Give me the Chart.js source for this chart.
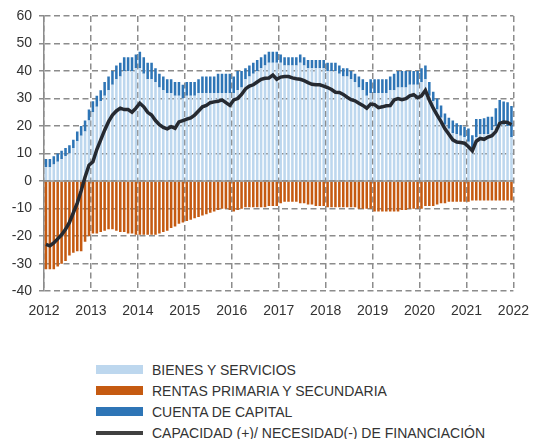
<!DOCTYPE html>
<html>
<head>
<meta charset="utf-8">
<script src="https://cdn.jsdelivr.net/npm/chart.js@4/dist/chart.umd.min.js"></script>
<style>
  body { margin: 0; background: #fff; font-family: 'Liberation Sans', Arial, sans-serif; }
  #wrap { position: relative; width: 541px; height: 439px; }
  #myChart { position: absolute; left: 0; top: 0; }
  #legend { position: absolute; left: 96px; top: 359px; }
  .item { height: 21.2px; display: flex; align-items: center; }
  .swatch { width: 47px; margin-right: 9px; }
  .txt { font-size: 14px; color: #333; white-space: nowrap; }
</style>
</head>
<body>
<div id="wrap">
  <canvas id="myChart" width="541" height="339"></canvas>
  <div id="legend"></div>
</div>
<script>
// Meses: enero 2012 - diciembre 2021
const years = [2012, 2013, 2014, 2015, 2016, 2017, 2018, 2019, 2020, 2021];
const yearTicks = [2012, 2013, 2014, 2015, 2016, 2017, 2018, 2019, 2020, 2021, 2022];

// Bienes y servicios
const bienes = [
    5, 5, 6, 7, 8, 9, 10, 12, 14.5, 16.5, 18, 22,
    25, 27, 29, 31, 33, 35, 37, 38, 40, 40, 40, 41,
    41, 39, 37, 37, 36, 34, 33, 32, 32, 31, 31, 30,
    31, 31, 31, 32, 32, 32, 32, 32, 32, 32, 32, 32,
    32, 33, 34, 37, 38, 39, 40, 41, 42, 43, 43, 43,
    43, 42, 42, 42, 42, 43, 42, 41, 41, 41, 41, 41,
    40, 40, 40, 39, 38, 38, 37, 36, 34, 33, 31, 32,
    32, 32, 32, 32, 33, 33, 34, 34, 34, 35, 35, 35,
    36, 37, 31, 29, 26, 23, 20.5, 19, 17.5, 17, 16.5, 16,
    14.3, 12, 16, 17, 17, 17, 18.5, 20, 21, 20.5, 20, 16
];
// Rentas primaria y secundaria
const rentas = [
    -32, -32, -32, -31, -30, -29, -27, -26, -25.5, -25.5, -22, -20,
    -19, -19, -18.5, -18, -17.5, -17.5, -18, -18.5, -18.5, -19, -19, -19.5,
    -19.5, -19.5, -19.5, -19.5, -19.5, -19, -18.5, -18, -17, -16.5, -15.5, -15,
    -14.5, -14, -13.5, -13, -12.5, -12, -11.5, -11, -10.5, -10, -10, -10.5,
    -11, -10.5, -10, -9.5, -9.5, -9.5, -9.5, -9.5, -9.5, -9, -9, -9,
    -8, -7.5, -7.5, -7.5, -7.5, -8, -8, -8.5, -8.5, -9, -9, -9,
    -9.5, -9.5, -9.5, -9.5, -9.5, -9.5, -9.5, -9.5, -10, -10, -10, -10,
    -11, -11, -11, -11, -11, -11, -11, -10.5, -10.5, -10, -10, -10,
    -10, -9, -9, -9, -8.5, -8, -8, -7.5, -7.5, -7.5, -7.5, -7.5,
    -7.5, -7, -7, -7, -7, -7, -7, -7, -7, -7, -7, -7
];
// Cuenta de capital
const capital = [
    3, 3, 3, 3, 3, 3, 3, 3, 3.5, 3.5, 4, 4,
    4, 4, 4, 5, 5, 5, 5, 5, 5, 5, 5, 5,
    6, 6, 6, 6, 5, 5, 5, 5, 5, 5, 5, 5,
    5, 5, 5, 5, 6, 6, 6, 6, 7, 7, 7, 7,
    6, 7, 6, 4, 4, 4, 4, 4, 4, 4, 4, 4,
    3, 3, 3, 3, 3, 3, 3, 3, 3, 3, 3, 3,
    3, 3, 3, 3, 3, 3, 3, 3, 4, 4, 5, 5,
    5, 5, 5, 5, 5, 6, 6, 6, 6, 5, 5, 5,
    5, 5, 5, 3.5, 4, 4.5, 4.1, 4, 4.5, 4, 3.9, 3.8,
    4.8, 4.7, 6.6, 5.6, 5.8, 6.4, 4.9, 6.5, 8.5, 8.4, 8.7, 11.3
];
// Capacidad (+) / necesidad (-) de financiación
const capacidad = [
    -23, -23.5, -22.5, -21, -19.5, -17.5, -15, -11.5, -8, -3.5, 1.5, 5.8,
    7, 11.5, 15, 18.5, 21.6, 24, 25.5, 26.5, 26, 26, 25, 26.5,
    28.3, 27, 25, 24, 22, 20.5, 19.5, 19, 19.8, 19.2, 21.5, 22,
    22.5, 23, 24, 25.5, 27, 27.5, 28.5, 28.8, 29, 29.5, 28.5, 27.5,
    29.5, 30, 31.5, 33.5, 34.5, 35, 36, 37, 37.4, 37.5, 38.5, 37,
    37.8, 38, 38, 37.5, 37.2, 37, 36.5, 35.8, 35.2, 35, 35, 34.5,
    34, 33.3, 32.3, 32.2, 31.5, 30.5, 29.6, 29.2, 28.3, 27.5, 26.5, 28,
    27.8, 26.7, 27, 27.4, 27.5, 29.5, 30, 29.6, 30, 31, 31.4, 30.3,
    31, 33, 29.5, 26.5, 24, 21.6, 19, 17, 15, 14.2, 14, 13.8,
    12.5, 11, 14.5, 15.5, 15.2, 16, 16.5, 18, 21, 21.5, 21.3, 20.5
];

// posicion de cada mes en el eje (centro del mes)
const meses = [];
years.forEach(y => { for (let m = 0; m < 12; m++) meses.push(y + (m + 0.5) / 12); });
const pts = arr => arr.map((v, i) => ({ x: meses[i], y: v }));

const gridColor = '#8c8c8c';
const tickFont = { size: 14, family: "'Liberation Sans', Arial, sans-serif" };

// linea del cero continua
const zeroLine = {
    id: 'zeroLine',
    afterDatasetDraw(chart, args) {
        if (args.index !== 0) return;
        const { ctx, chartArea } = chart;
        const y = chart.scales.y.getPixelForValue(0);
        ctx.save();
        ctx.strokeStyle = gridColor;
        ctx.lineWidth = 1.5;
        ctx.beginPath();
        ctx.moveTo(chartArea.left, y);
        ctx.lineTo(chartArea.right, y);
        ctx.stroke();
        ctx.restore();
    }
};

const datasets = [
    { label: 'BIENES Y SERVICIOS', data: pts(bienes), backgroundColor: '#bdd7ee', stack: 'b', order: 1 },
    { label: 'RENTAS PRIMARIA Y SECUNDARIA', data: pts(rentas), backgroundColor: '#c55a11', stack: 'b', order: 1 },
    { label: 'CUENTA DE CAPITAL', data: pts(capital), backgroundColor: '#2e75b6', stack: 'b', order: 1 },
    {
        type: 'line', label: 'CAPACIDAD (+)/ NECESIDAD(-) DE FINANCIACIÓN', data: pts(capacidad),
        borderColor: '#262a31', borderWidth: 3.5, pointRadius: 0, tension: 0, stack: 'l', order: 0,
        legendColor: '#404040'
    }
];

const ctx = document.getElementById('myChart').getContext('2d');
new Chart(ctx, {
    type: 'bar',
    data: { datasets: datasets },
    options: {
        responsive: false,
        animation: false,
        datasets: { bar: { categoryPercentage: 1, barPercentage: 0.65 } },
        layout: { padding: { top: 16, right: 17, bottom: 7, left: 0 } },
        plugins: { legend: { display: false }, tooltip: { enabled: false } },
        scales: {
            x: {
                type: 'linear',
                min: 2012, max: 2022,
                offset: false,
                afterBuildTicks: s => { s.ticks = yearTicks.map(v => ({ value: v })); },
                ticks: { callback: v => String(v), font: tickFont, color: '#333', padding: 12, maxRotation: 0 },
                grid: { offset: false, color: gridColor, lineWidth: 1.5, drawTicks: false },
                border: { display: false, dash: [6, 3.5] }
            },
            y: {
                stacked: true,
                min: -40, max: 60,
                afterFit: s => { s.width = 44; },
                ticks: { stepSize: 10, font: tickFont, color: '#333', padding: 7 },
                grid: { color: gridColor, lineWidth: 1.5, tickLength: 5 },
                border: { display: true, color: gridColor, width: 1.5, dash: [6, 3.5] }
            }
        }
    },
    plugins: [zeroLine]
});

// leyenda vertical
const legend = document.getElementById('legend');
datasets.forEach(d => {
    const row = document.createElement('div');
    row.className = 'item';
    const sw = document.createElement('div');
    sw.className = 'swatch';
    if (d.type === 'line') {
        sw.style.height = '4px';
        sw.style.background = d.legendColor;
    } else {
        sw.style.height = '9px';
        sw.style.background = d.backgroundColor;
    }
    const t = document.createElement('span');
    t.className = 'txt';
    t.textContent = d.label;
    row.appendChild(sw);
    row.appendChild(t);
    legend.appendChild(row);
});
</script>
</body>
</html>
